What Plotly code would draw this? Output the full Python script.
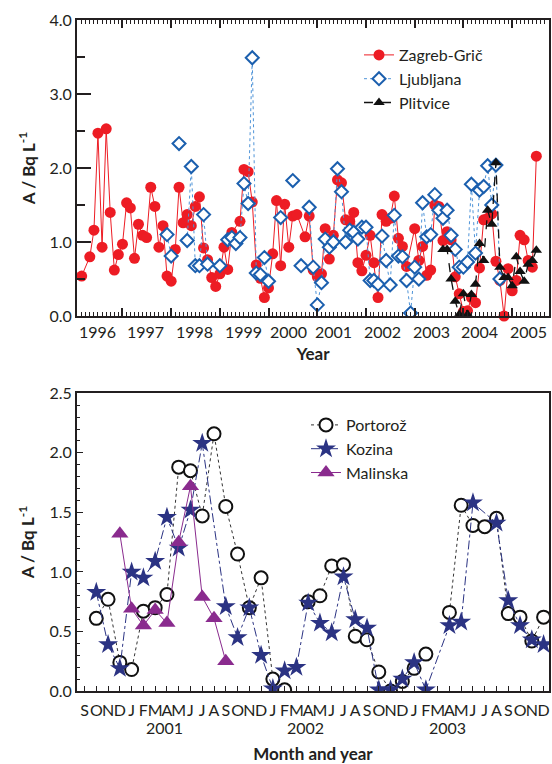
import plotly.graph_objects as go
import pandas as pd

# ---------------- Top panel data (monthly, None = no sample) ----------------
ZAGREB_START = "1996-03-01"
ZAGREB = [0.54, None, 0.80, 1.16, 2.47, 0.93, 2.53, 1.40, 0.62, 0.83,
          0.97, 1.53, 1.46, 0.78, 1.24, 1.09, 1.06, 1.74, 1.48, 0.93,
          1.22, 0.54, 0.47, 0.90, 1.74, 1.26, 1.37, 1.22, 1.48, 1.61,
          0.92, 0.76, 0.52, 0.40, 0.57, 0.93, 0.63, 1.13, None, 1.28,
          1.98, 1.95, 1.54, 0.69, 0.51, 0.25, 0.38, 0.84, 1.56, 0.68,
          1.51, 0.93, 1.35, 1.37, None, 1.07, 1.35, 0.62, 0.53, 0.57,
          1.18, 0.77, 1.09, 1.84, 1.80, 1.30, 1.28, 1.40, 0.72, 0.61,
          0.82, 1.09, 0.72, 0.25, 1.37, 1.28, 1.32, 1.62, 1.05, 0.94,
          0.67, None, 1.18, 0.75, 0.94, 0.55, 0.62, 1.50, 1.48, 1.02,
          1.14, 1.03, 0.53, 0.30, 0.06, 0.07, 0.25, 0.18, 0.65, 1.30,
          1.32, 1.38, 0.74, 0.48, 0.00, 0.64, 0.34, 0.48, 1.09, 1.03,
          0.75, 0.66, 2.16]

LJUBLJANA_START = "1996-01-01"
LJUBLJANA = [1.27] + [None] * 22 + [
    1.10, 0.81, None, 2.33, None, 1.02, 2.02, 0.68, 0.68, 1.37,
    0.70, None, None, 0.68, None, 1.03, 1.06, 0.98, 1.06, 1.79,
    1.52, 3.49, 0.58, 0.56, 0.79, 0.47, None, None, 1.33, None,
    None, 1.83, None, 0.68, None, 1.47, 0.66, 0.15, 0.45, 1.04,
    0.93, 1.00, 1.99, 1.68, 1.00, 1.16, 1.13, 1.04, 1.20, 1.20,
    0.48, 0.48, 0.43, 1.08, 0.75, 0.42, 1.36, 0.81, 0.80, 0.48,
    0.04, 0.66, 0.50, 1.53, 1.07, 1.10, 1.64, 1.43, 1.32, 1.43,
    1.09, 0.90, 0.66, 0.66, 0.73, 1.78, 0.85, 1.70, 1.75, 2.03,
    1.50, 2.04, 0.50]

PLITVICE_START = "2003-08-01"
PLITVICE = [0.90, 0.90, 0.50, 0.20, 0.02, 0.30, 0.02, 0.29, 0.43, 0.98,
            0.75, 1.43, 1.24, 2.07, 0.66, 0.52, 0.52, 0.41, 0.80, 0.60,
            0.47, 0.70, 0.75, 0.89]

TOP_YEARS = list(range(1996, 2006))
TOP_YTICKS = [0, 1, 2, 3, 4]
TOP_YTICK_LABELS = ["0.0", "1.0", "2.0", "3.0", "4.0"]

# ---------------- Bottom panel data (Sep 2000 .. Dec 2003) ----------------
MONTH_LETTERS = list("SOND") + list("JFMAMJJASOND") * 3
YEAR_LABELS = ["2001", "2002", "2003"]

PORTOROZ = [None, 0.61, 0.77, 0.24, 0.18, 0.67, 0.70, 0.81, 1.88, 1.85,
            1.47, 2.16, 1.55, 1.15, 0.70, 0.95, 0.10, 0.01, None, 0.75,
            0.80, 1.05, 1.06, 0.46, 0.43, 0.16, 0.00, 0.08, 0.19, 0.31,
            None, 0.66, 1.56, 1.39, 1.38, 1.45, 0.65, 0.62, 0.42, 0.62]
KOZINA = [None, 0.83, 0.39, 0.19, 1.00, 0.95, 1.09, 1.46, 1.20, 1.52,
          2.08, None, 0.71, 0.45, 0.70, 0.30, 0.02, 0.17, 0.20, 0.74,
          0.57, 0.49, 0.96, 0.60, 0.53, 0.01, 0.01, 0.10, 0.24, 0.01,
          None, 0.55, 0.58, 1.58, None, 1.41, 0.76, 0.55, 0.43, 0.39]
MALINSKA = [None, None, None, 1.32, 0.69, 0.55, 0.68, 0.57, 1.25, 1.72,
            0.79, 0.61, 0.25]

BOT_YTICKS = [0, 0.5, 1.0, 1.5, 2.0, 2.5]
BOT_YTICK_LABELS = ["0.0", "0.5", "1.0", "1.5", "2.0", "2.5"]

# ---------------- Figure ----------------
def months(start, n):
    return pd.date_range(start=start, periods=n, freq="MS")

FONT = "Lato"
AX = "#231f20"
RED = "#ed1c24"
BLUE = "#1b5fae"
LBLUE = "#4f94d8"
NAVY = "#2b3383"
PURPLE = "#8a2b8e"

fig = go.Figure()

fig.add_trace(go.Scatter(
    x=months(ZAGREB_START, len(ZAGREB)), y=ZAGREB, name="Zagreb-Grič",
    mode="lines+markers", connectgaps=True, cliponaxis=False,
    line=dict(color=RED, width=1),
    marker=dict(symbol="circle", size=11, color=RED),
    xaxis="x", yaxis="y", legend="legend"))
fig.add_trace(go.Scatter(
    x=months(LJUBLJANA_START, len(LJUBLJANA)), y=LJUBLJANA, name="Ljubljana",
    mode="lines+markers", connectgaps=False, cliponaxis=True,
    line=dict(color=LBLUE, width=1, dash="dot"),
    marker=dict(symbol="diamond", size=10, color="white",
                line=dict(color=BLUE, width=2)),
    xaxis="x", yaxis="y", legend="legend"))
fig.add_trace(go.Scatter(
    x=months(PLITVICE_START, len(PLITVICE)), y=PLITVICE, name="Plitvice",
    mode="lines+markers", cliponaxis=False,
    line=dict(color="#111111", width=1.3, dash="dash"),
    marker=dict(symbol="triangle-up", size=10, color="#111111"),
    xaxis="x", yaxis="y", legend="legend"))

idx = list(range(len(MONTH_LETTERS)))
fig.add_trace(go.Scatter(
    x=idx, y=PORTOROZ, name="Portorož", mode="lines+markers",
    line=dict(color="#333333", width=1, dash="dot"),
    marker=dict(symbol="circle", size=13, color="white",
                line=dict(color="#111111", width=2)),
    xaxis="x2", yaxis="y2", legend="legend2"))
fig.add_trace(go.Scatter(
    x=idx, y=KOZINA, name="Kozina", mode="lines+markers", connectgaps=True,
    line=dict(color=NAVY, width=1, dash="dashdot"),
    marker=dict(symbol="star", size=15, color=NAVY),
    xaxis="x2", yaxis="y2", legend="legend2"))
fig.add_trace(go.Scatter(
    x=idx[:len(MALINSKA)], y=MALINSKA, name="Malinska", mode="lines+markers",
    line=dict(color=PURPLE, width=1),
    marker=dict(symbol="triangle-up", size=15, color=PURPLE),
    xaxis="x2", yaxis="y2", legend="legend2"))

tickfont = dict(family=FONT, size=16, color=AX)
titlefont = dict(family=FONT, size=17, color=AX, weight="bold")
common = dict(showgrid=False, zeroline=False, showline=True, linecolor=AX,
              linewidth=2, ticks="inside", tickcolor=AX, tickfont=tickfont,
              automargin=False)

P_TOP = 20
P_BOT = 73
H = 764
PH = H - P_TOP - P_BOT
TOP_RANGE = ["1996-01-26", "2005-10-04"]

fig.update_layout(
    width=552, height=764,
    margin=dict(l=77, r=3, t=P_TOP, b=P_BOT),
    paper_bgcolor="white", plot_bgcolor="white",
    font=dict(family=FONT, color=AX),
    xaxis=dict(**common, domain=[0, 1], anchor="y", type="date",
               range=TOP_RANGE, tick0="1996-01-01", dtick="M12",
               showticklabels=False,
               ticklen=8, tickwidth=1.5, mirror="allticks",
               minor=dict(dtick="M1", ticks="inside", ticklen=4,
                          tickcolor=AX, tickwidth=1),
               title=dict(text="Year", font=titlefont, standoff=31)),
    yaxis=dict(**common, domain=[(691 - 316) / PH, 1], anchor="x",
               range=[0, 4], tickvals=TOP_YTICKS, ticktext=TOP_YTICK_LABELS,
               ticklen=14, tickwidth=1.5, mirror=True,
               minor=dict(dtick=0.5, tick0=0, ticks="inside", ticklen=8,
                          tickcolor=AX, tickwidth=1.5),
               title=dict(text="A / Bq L<sup>-1</sup>", font=titlefont,
                          standoff=10)),
    yaxis3=dict(overlaying="y", side="right", anchor="x", range=[0, 4],
                dtick=0.5, tick0=0, ticks="inside", ticklen=4, tickcolor=AX,
                showticklabels=False, showgrid=False, zeroline=False,
                showline=False),
    xaxis2=dict(**common, domain=[0, 1], anchor="y2",
                range=[-0.64, 39.46], tickvals=idx, ticktext=MONTH_LETTERS,
                tickangle=0, ticklen=5, tickwidth=1.2, mirror=True,
                ticklabelstandoff=4,
                title=dict(text="Month and year", font=titlefont, standoff=32)),
    yaxis2=dict(**common, domain=[0, (691 - 393.3) / PH], anchor="x2",
                range=[0, 2.5], tickvals=BOT_YTICKS, ticktext=BOT_YTICK_LABELS,
                ticklen=6, tickwidth=1.2, mirror=True,
                minor=dict(dtick=0.1, tick0=0, ticks="inside", ticklen=3,
                           tickcolor=AX, tickwidth=1),
                title=dict(text="A / Bq L<sup>-1</sup>", font=titlefont,
                           standoff=10)),
    yaxis4=dict(overlaying="y2", side="right", anchor="x2", range=[0, 2.5],
                dtick=0.1, tick0=0, ticks="inside", ticklen=4, tickcolor=AX,
                showticklabels=False, showgrid=False, zeroline=False,
                showline=False),
    legend=dict(x=(359 - 77) / 472, y=(691 - 38) / PH, xanchor="left",
                yanchor="top", bgcolor="rgba(0,0,0,0)",
                font=dict(family=FONT, size=16, color=AX)),
    legend2=dict(x=(306 - 77) / 472, y=(691 - 408) / PH, xanchor="left",
                 yanchor="top", bgcolor="rgba(0,0,0,0)",
                 font=dict(family=FONT, size=16, color=AX)),
)

# Year labels of the top panel: centred a little before mid-year, as drawn
for y in TOP_YEARS:
    frac = 0.48 if y < 2000 else (0.42 if y == 2000 else 0.34)
    pos = pd.Timestamp(f"{y}-01-01") + pd.Timedelta(days=round(frac * 365))
    fig.add_annotation(text=str(y), x=pos, xref="x",
                       y=(691 - 332) / PH, yref="paper", showarrow=False,
                       yanchor="middle", font=tickfont)

# Year labels of the bottom panel
jan_idx = [i for i, m in enumerate(MONTH_LETTERS) if m == "J" and
           (i == 0 or MONTH_LETTERS[i - 1] == "D")]
for label, j in zip(YEAR_LABELS, jan_idx):
    fig.add_annotation(text=label, x=j + 2.8, xref="x2",
                       y=(691 - 727) / PH, yref="paper", showarrow=False,
                       yanchor="middle", font=tickfont)

fig.write_html("out.html", config={"displayModeBar": False},
               post_script="document.body.style.margin='0';"
                           "document.body.style.overflow='hidden';")
